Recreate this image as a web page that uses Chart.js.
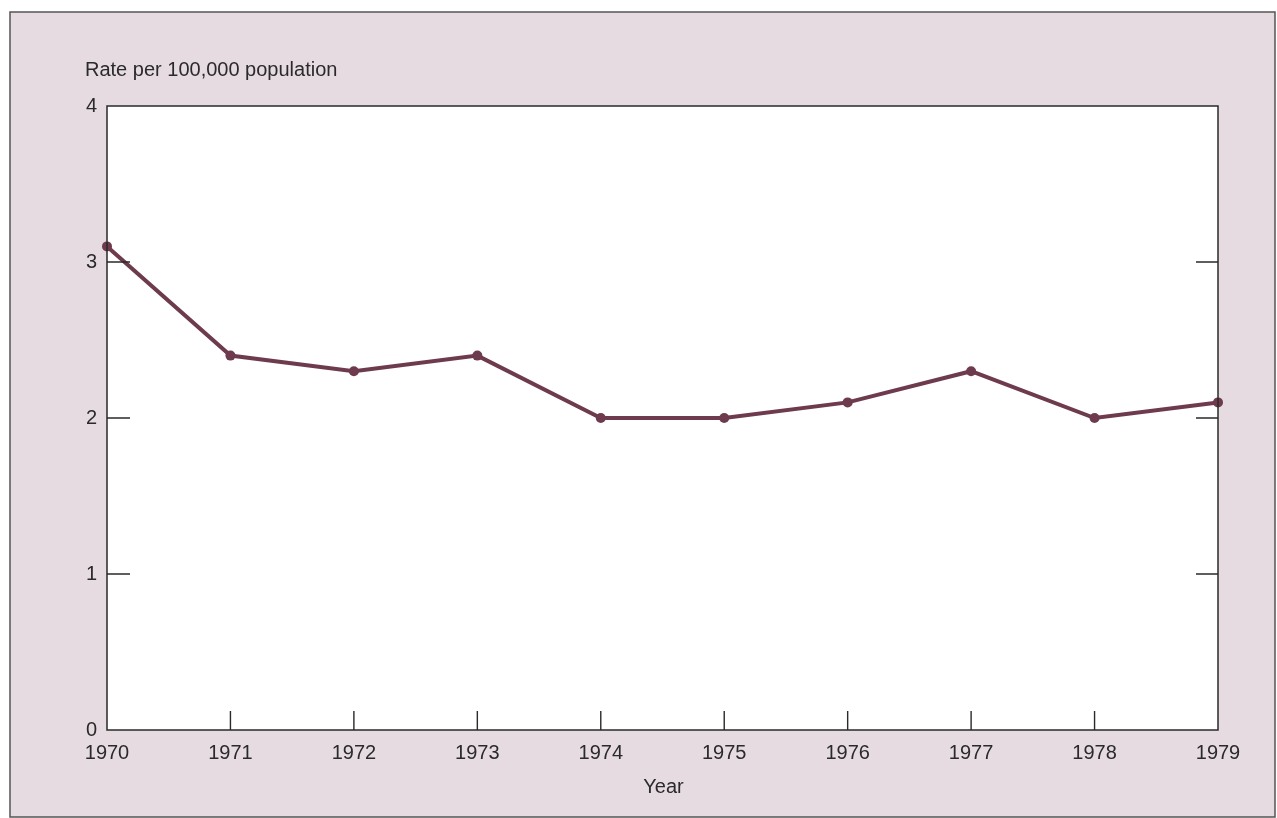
<!DOCTYPE html>
<html lang="en">
<head>
  <meta charset="UTF-8">
  <title>Rate per 100,000 population, 1970-1979</title>
  <script src="https://cdn.jsdelivr.net/npm/chart.js"></script>
  <style>
    html, body {
      margin: 0;
      padding: 0;
      background: #ffffff;
    }
    canvas {
      display: block;
    }
  </style>
</head>
<body>
  <canvas id="rateChart" width="1277" height="818"></canvas>

  <script>
    // Data
    const years = ['1970', '1971', '1972', '1973', '1974', '1975', '1976', '1977', '1978', '1979'];
    const rates = [3.1, 2.4, 2.3, 2.4, 2.0, 2.0, 2.1, 2.3, 2.0, 2.1];
    const yTicks = [0, 1, 2, 3, 4];

    const lineColor = '#6d3b4d';
    const inkColor = '#2a2a2a';
    const panelColor = '#e7dbe2';
    const fontFamily = '"Liberation Sans", Arial, sans-serif';

    // Pink panel, white plot box, inner tick marks and titles
    const framePlugin = {
      id: 'frame',
      beforeDraw(chart) {
        const ctx = chart.ctx;
        const a = chart.chartArea;
        ctx.save();
        ctx.fillStyle = '#ffffff';
        ctx.fillRect(0, 0, chart.width, chart.height);
        ctx.fillStyle = panelColor;
        ctx.fillRect(10, 12, chart.width - 12, chart.height - 13);
        ctx.strokeStyle = '#555555';
        ctx.lineWidth = 1.5;
        ctx.strokeRect(10, 12, chart.width - 12, chart.height - 13);
        ctx.fillStyle = '#ffffff';
        ctx.fillRect(a.left, a.top, a.right - a.left, a.bottom - a.top);
        ctx.restore();
      },
      afterDatasetsDraw(chart) {
        const ctx = chart.ctx;
        const a = chart.chartArea;
        const x = chart.scales.x;
        const y = chart.scales.y;
        ctx.save();
        ctx.strokeStyle = inkColor;
        ctx.lineWidth = 1.4;
        ctx.beginPath();
        yTicks.forEach(v => {
          if (v === 0 || v === 4) return;
          const py = y.getPixelForValue(v);
          ctx.moveTo(a.left, py);
          ctx.lineTo(a.left + 23, py);
          ctx.moveTo(a.right, py);
          ctx.lineTo(a.right - 22, py);
        });
        years.forEach((yr, i) => {
          if (i === 0 || i === years.length - 1) return;
          const px = x.getPixelForValue(i);
          ctx.moveTo(px, a.bottom);
          ctx.lineTo(px, a.bottom - 19);
        });
        ctx.stroke();
        ctx.lineWidth = 1.5;
        ctx.strokeRect(a.left, a.top, a.right - a.left, a.bottom - a.top);

        ctx.fillStyle = inkColor;
        ctx.font = '20px ' + fontFamily;
        ctx.textBaseline = 'middle';
        ctx.textAlign = 'left';
        ctx.fillText('Rate per 100,000 population', 85, 70);
        ctx.textAlign = 'center';
        ctx.fillText('Year', (a.left + a.right) / 2 + 1, 787);
        ctx.restore();
      }
    };

    const ctx = document.getElementById('rateChart').getContext('2d');
    const rateChart = new Chart(ctx, {
      type: 'line',
      data: {
        labels: years,
        datasets: [{
          label: 'Rate',
          data: rates,
          borderColor: lineColor,
          backgroundColor: lineColor,
          borderWidth: 4,
          pointRadius: 5,
          pointBorderWidth: 0,
          pointBackgroundColor: lineColor,
          tension: 0,
          fill: false,
          clip: false
        }]
      },
      options: {
        responsive: false,
        animation: false,
        layout: {
          padding: { left: 10, right: 59, top: 106, bottom: 0 }
        },
        plugins: {
          legend: { display: false },
          tooltip: { enabled: false }
        },
        scales: {
          x: {
            type: 'category',
            offset: false,
            grid: { display: false, drawTicks: false },
            border: { display: false },
            ticks: {
              color: inkColor,
              padding: 11,
              maxRotation: 0,
              autoSkip: false,
              font: { family: fontFamily, size: 20 }
            },
            afterFit(scale) { scale.height = 88; }
          },
          y: {
            min: 0,
            max: 4,
            grid: { display: false, drawTicks: false },
            border: { display: false },
            afterBuildTicks(scale) {
              scale.ticks = yTicks.map(v => ({ value: v }));
            },
            ticks: {
              color: inkColor,
              padding: 10,
              font: { family: fontFamily, size: 20 }
            },
            afterFit(scale) { scale.width = 97; }
          }
        }
      },
      plugins: [framePlugin]
    });
  </script>
</body>
</html>
